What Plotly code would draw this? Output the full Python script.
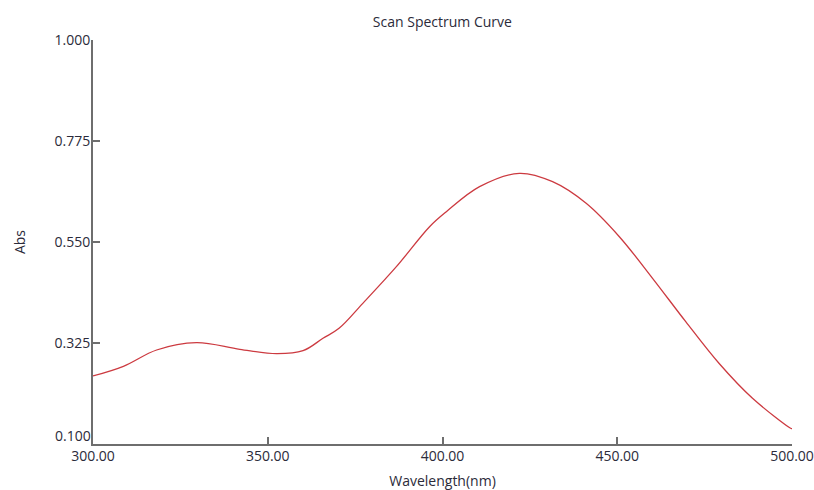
import plotly.graph_objects as go

wavelength = [300, 308.7, 318.2, 329.6, 342.0, 352.5, 360.1, 365.8, 370.4, 377.2,
              386.8, 396.3, 401.1, 410.6, 422.0, 431.5, 441.1, 450.6, 460.1, 469.6,
              479.1, 488.7, 499.6, 500]
absorbance = [0.2515, 0.2730, 0.3094, 0.3257, 0.3110, 0.3012, 0.3078, 0.3355, 0.3577, 0.4134,
              0.4950, 0.5841, 0.6175, 0.6732, 0.7030, 0.6843, 0.6362, 0.5618, 0.4691, 0.3725,
              0.2798, 0.2018, 0.1350, 0.1340]

y_ticks = [0.100, 0.325, 0.550, 0.775, 1.000]
x_ticks = [300, 350, 400, 450, 500]

FONT = "Open Sans, Noto Sans, sans-serif"
FS = 14
AX = "#6e6e6e"
TXT = "#2b2b3a"

fig = go.Figure()
fig.add_trace(go.Scatter(
    x=wavelength, y=absorbance, mode="lines",
    line=dict(color="#cc3a40", width=1.3, shape="spline", smoothing=1.0),
    hoverinfo="skip", showlegend=False,
))

# bottom y label drawn raised above the x axis, as in the reference
ytext = [f"{v:.3f}" for v in y_ticks]
fig.add_annotation(x=0, xref="paper", y=y_ticks[0], yref="y", text=ytext[0],
                   showarrow=False, xanchor="right", yanchor="middle",
                   xshift=0, yshift=9,
                   font=dict(family=FONT, size=FS, color=TXT))
ytext[0] = ""

fig.update_layout(
    width=814, height=490,
    margin=dict(l=93, r=22, t=40, b=46),
    paper_bgcolor="white", plot_bgcolor="white",
    font=dict(family=FONT, size=FS, color=TXT),
    title=dict(text="Scan Spectrum Curve", x=0.5435, xanchor="center",
               y=1 - 22 / 490, yanchor="middle",
               font=dict(family=FONT, size=FS, color=TXT)),
    xaxis=dict(
        range=[300, 500], tickvals=x_ticks,
        ticktext=[f"{v:.2f}" for v in x_ticks],
        automargin=False,
        showgrid=False, zeroline=False,
        showline=True, linecolor=AX, linewidth=2,
        ticks="inside", ticklen=7, tickcolor=AX, tickwidth=1.5,
        ticklabelstandoff=-2,
        tickfont=dict(family=FONT, size=FS, color=TXT),
        title=dict(text="Wavelength(nm)", standoff=13,
                   font=dict(family=FONT, size=FS, color=TXT)),
    ),
    yaxis=dict(
        range=[0.1, 1.0], tickvals=y_ticks,
        ticktext=ytext,
        automargin=False,
        showgrid=False, zeroline=False,
        showline=True, linecolor=AX, linewidth=2,
        ticks="inside", ticklen=7, tickcolor=AX, tickwidth=1.5,
        ticklabelstandoff=-2,
        tickfont=dict(family=FONT, size=FS, color=TXT),
        title=dict(text="Abs", standoff=26,
                   font=dict(family=FONT, size=FS, color=TXT)),
    ),
)

fig.write_html("out.html")
